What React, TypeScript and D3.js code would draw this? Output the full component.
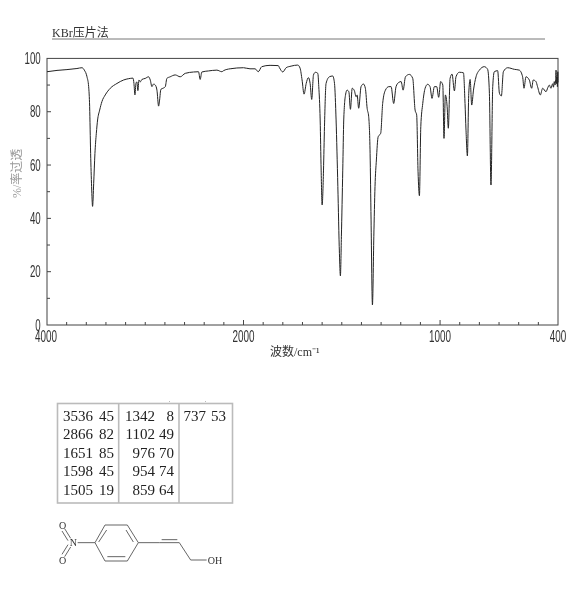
import React from "react";
import * as d3 from "d3";

const wavenumbers = [4000,3898,3797,3695,3644,3620,3593,3576,3566,3556,3546,3536,3525,3512,3498,3485,3464,3441,3407,3356,3288,3220,3169,3125,3115,3105,3095,3085,3075,3064,3051,3034,3000,2966,2949,2932,2915,2898,2881,2864,2854,2841,2813,2796,2780,2746,2695,2644,2593,2508,2458,2441,2424,2356,2271,2220,2203,2136,2000,1967,1941,1925,1907,1865,1823,1817,1800,1783,1758,1724,1712,1702,1692,1681,1670,1661,1653,1644,1634,1622,1617,1610,1605,1600,1593,1588,1580,1563,1546,1537,1529,1520,1512,1507,1502,1495,1490,1481,1473,1464,1456,1447,1436,1427,1422,1414,1402,1390,1380,1371,1363,1356,1351,1344,1337,1331,1324,1315,1302,1292,1278,1261,1249,1236,1224,1210,1198,1188,1176,1156,1139,1127,1119,1112,1105,1098,1088,1076,1063,1051,1041,1029,1017,1007,997,986,980,973,964,958,949,939,927,919,902,881,873,868,861,854,847,839,830,817,800,775,758,749,741,732,724,707,698,688,678,656,622,597,580,573,563,546,534,526,512,504,490,478,461,452,444,436,427,423,419,415,412,410,407,405,403,401,400];
const transmittance = [95,95.5,95.8,96.2,96.5,95.6,93.1,89.4,81.9,64.4,51.9,44.5,53,64.4,71.9,76.9,80.6,83.8,86.3,88.8,90.6,91.9,92.4,92.6,90.6,86.3,90.6,91.2,87.9,91.9,91.2,92.1,92.5,93.1,91.9,89.4,90.4,90,88.1,82.1,84.4,88.4,88.9,89.4,92.5,93.1,93.8,93.1,94.4,94.9,95,92.1,94.9,95.3,95.6,95,95.4,96.1,96.5,96.1,96.1,95,96.9,97.4,97.3,96.5,94.9,96.5,97.1,97.5,96.3,91.9,86.6,90.6,92.8,90.6,84.6,93.8,94.8,94.4,89.4,76.9,58.1,45,58.1,74.4,90.6,93.1,93.4,90.6,76.9,51.9,26.9,18.4,33.1,58.1,76.9,86.3,88.1,87.5,80.9,88.8,87.9,85.6,86.3,81.3,89.4,90.4,88.8,81.3,78.1,64.4,39.4,7.5,33.1,51.9,61.9,70.6,71.9,83.1,88.1,89.4,89.4,83.1,89.4,91,91.3,88.1,93.1,94,92.5,80.6,78.8,57.5,48.5,74.4,83.1,88.8,90.3,89.4,85,89.4,89.4,85.4,91.3,90,70,86.3,81.9,73.8,92.5,94.1,87.8,93.1,94.8,94.6,83.1,73.1,63.4,86.9,92.1,82.5,88.1,93.1,95.6,96.9,95.9,86.9,52.5,89.4,95,95.4,86.9,85.9,95,96.5,95.9,95.6,93.1,88.8,93.1,91.9,88.8,91.9,91.3,89.4,86.3,88.8,87.5,89,90,88.8,90.5,89.2,91.3,90,92,95.6,90.5,93,89.4,95,91];

const xMajorTicks = [4000, 2000, 1000, 400];
const xMinorTicks = [3800,3600,3400,3200,3000,2800,2600,2400,2200,1900,1800,1700,1600,1500,1400,1300,1200,1100,900,800,700,600,500];
const yMajorTicks = [0, 20, 40, 60, 80, 100];
const yMinorTicks = [10, 30, 50, 70, 90];

const peakColumns = [
  [["3536","45"],["2866","82"],["1651","85"],["1598","45"],["1505","19"]],
  [["1342","8"],["1102","49"],["976","70"],["954","74"],["859","64"]],
  [["737","53"]],
];
const peakColumnRight = [[93, 114], [155, 174], [206, 226]];

const title = "KBr压片法";
const xTitle = "波数/cm⁻¹";
const yTitle = "%/率过透";

const tickFont = "'Liberation Sans Narrow','Liberation Sans',sans-serif";
const cjkFont = "'Liberation Serif','Noto Sans CJK SC',serif";

export default function App() {
  const x = d3.scaleLinear().domain([4000, 2000, 400]).range([47, 243.5, 558]);
  const y = d3.scaleLinear().domain([0, 100]).range([325, 58.4]);
  const line = d3.line<number>().x((d) => x(d)).y((_, i) => y(transmittance[i])).curve(d3.curveMonotoneX);
  const zx = (v: number) => 40 + v / 3;
  const zy = (v: number) => 390 + v / 3;
  const bonds = [
    [195,405,262,405],[262,405,295,458],[295,458,262,513],[262,513,195,513],[195,513,165,458],[165,458,195,405],
    [200,420,176,456],[258,420,280,456],[202,500,256,500],
    [165,458,113,458],[295,458,358,458],[358,458,418,458],[365,449,412,449],[418,458,452,510],[452,510,500,510],
    [92,445,74,416],[84,452,66,423],[92,471,74,500],[84,464,66,493],
  ];
  return (
    <svg width={570} height={610} style={{ position: "absolute", left: 0, top: 0, background: "#fff" }}>
      <defs>
        <filter id="soft" x="0" y="0" width="100%" height="100%">
          <feGaussianBlur stdDeviation="0.35" />
        </filter>
      </defs>
      <g filter="url(#soft)">
        <text x={52} y={37} fontSize={12} fontFamily={cjkFont} fill="#333">{title}</text>
        <line x1={52} x2={545} y1={39} y2={39} stroke="#777" strokeWidth={1} />

        <rect x={x(4000)} y={y(100)} width={x(400) - x(4000)} height={y(0) - y(100)} fill="none" stroke="#444" strokeWidth={1} />
        {xMajorTicks.slice(1, 3).map((t) => (
          <line key={t} x1={x(t)} x2={x(t)} y1={y(0)} y2={y(0) - 5} stroke="#444" />
        ))}
        {xMinorTicks.map((t) => (
          <line key={t} x1={x(t)} x2={x(t)} y1={y(0)} y2={y(0) - 3} stroke="#444" />
        ))}
        {yMajorTicks.slice(1, 5).map((t) => (
          <line key={t} x1={x(4000)} x2={x(4000) + 4} y1={y(t)} y2={y(t)} stroke="#444" />
        ))}
        {yMinorTicks.map((t) => (
          <line key={t} x1={x(4000)} x2={x(4000) + 3} y1={y(t)} y2={y(t)} stroke="#444" />
        ))}

        {yMajorTicks.map((t) => (
          <text key={t} x={40.7} y={y(t) + 5.5} textAnchor="end" fontSize={16} fontFamily={tickFont} fill="#333"
            textLength={String(t).length * 5.4} lengthAdjust="spacingAndGlyphs">{t}</text>
        ))}
        {xMajorTicks.map((t) => (
          <text key={t} x={x(t) - (t === 4000 ? 1 : 0)} y={342} textAnchor="middle" fontSize={16} fontFamily={tickFont} fill="#333"
            textLength={String(t).length * 5.5} lengthAdjust="spacingAndGlyphs">{t}</text>
        ))}

        <text x={270} y={356} fontSize={12} fontFamily={cjkFont} fill="#333">{xTitle}</text>
        <text transform="translate(21,198) rotate(-90)" fontSize={12} fontFamily={cjkFont} fill="#999">{yTitle}</text>

        <path d={line(wavenumbers) ?? ""} fill="none" stroke="#222" strokeWidth={1} />

        <rect x={57.5} y={403.5} width={175} height={99.5} fill="none" stroke="#bbb" strokeWidth={1.6} />
        <line x1={118.7} x2={118.7} y1={404} y2={503} stroke="#bbb" strokeWidth={1.6} />
        <line x1={179} x2={179} y1={404} y2={503} stroke="#bbb" strokeWidth={1.6} />
        <rect x={169} y={401} width={1} height={1} fill="#bbb" />
        <rect x={205} y={401} width={1} height={1} fill="#bbb" />
        {peakColumns.map((col, c) =>
          col.map((row, r) => (
            <g key={`${c}-${r}`} fontFamily="'Liberation Serif',serif" fontSize={15} fill="#222" textAnchor="end">
              <text x={peakColumnRight[c][0]} y={421 + r * 18.4}>{row[0]}</text>
              <text x={peakColumnRight[c][1]} y={421 + r * 18.4}>{row[1]}</text>
            </g>
          ))
        )}

        {bonds.map((b, i) => (
          <line key={i} x1={zx(b[0])} y1={zy(b[1])} x2={zx(b[2])} y2={zy(b[3])} stroke="#555" strokeWidth={0.9} />
        ))}
        <g fontFamily="'Liberation Serif',serif" fontSize={10} fill="#333">
          <text x={zx(100)} y={zy(458) + 3.5} textAnchor="middle">N</text>
          <text x={zx(68)} y={zy(405) + 3.5} textAnchor="middle">O</text>
          <text x={zx(68)} y={zy(510) + 3.5} textAnchor="middle">O</text>
          <text x={zx(503)} y={zy(510) + 3.5}>OH</text>
        </g>
      </g>
    </svg>
  );
}
